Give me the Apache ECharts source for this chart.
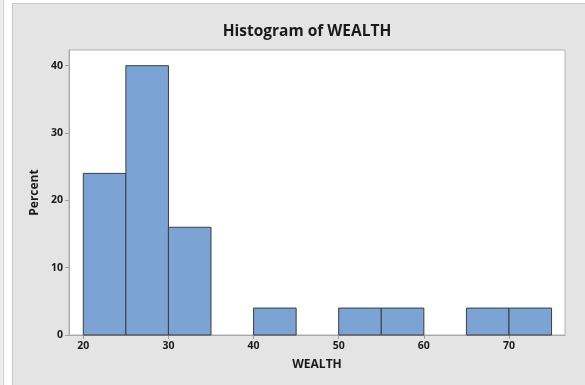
<!DOCTYPE html>
<html>
<head>
<meta charset="utf-8">
<title>Histogram of WEALTH</title>
<script src="https://cdn.jsdelivr.net/npm/echarts@6/dist/echarts.min.js"></script>
<style>
  html, body { margin: 0; padding: 0; background: #ffffff; }
  #chart { width: 585px; height: 385px; }
</style>
</head>
<body>
<div id="chart"></div>
<script>
// Histogram bins of WEALTH (bin width 5) and the percent of observations in each
const binStarts = [20, 25, 30, 40, 50, 55, 65, 70];
const binEnds   = [25, 30, 35, 45, 55, 60, 70, 75];
const percents  = [24, 40, 16, 4, 4, 4, 4, 4];

// Axis tick positions
const xTicks = [20, 30, 40, 50, 60, 70];
const yTicks = [0, 10, 20, 30, 40];

const FONT = 'Open Sans';

const bins = binStarts.map((s, i) => [s, binEnds[i], percents[i]]);

const chart = echarts.init(document.getElementById('chart'), null, { renderer: 'canvas' });

chart.setOption({
  backgroundColor: '#ffffff',
  animation: false,
  graphic: [
    { type: 'rect', z: -10, silent: true, shape: { x: 0, y: 0, width: 3.5, height: 385 },
      style: { fill: '#eeeeee' } },
    { type: 'line', z: -10, silent: true, shape: { x1: 3.5, y1: 0, x2: 3.5, y2: 385 },
      style: { stroke: '#cfcfcf', lineWidth: 1 } },
    { type: 'rect', z: -10, silent: true, shape: { x: 12.5, y: 3.5, width: 580, height: 390 },
      style: { fill: '#e4e4e4', stroke: '#c9c9c9', lineWidth: 1 } }
  ],
  title: {
    text: 'Histogram of WEALTH',
    left: 302,
    top: 19,
    textAlign: 'center',
    textStyle: { fontFamily: FONT, fontSize: 15.5, fontWeight: 'bold', color: '#1a1a1a' }
  },
  grid: {
    left: 69, top: 50, right: 20, bottom: 50,
    show: true, backgroundColor: '#ffffff', borderColor: '#b3b3b3', borderWidth: 1
  },
  xAxis: {
    type: 'value',
    min: 18.32,
    max: 76.58,
    name: 'WEALTH',
    nameLocation: 'middle',
    nameGap: 24,
    nameTextStyle: { fontFamily: FONT, fontSize: 12, fontWeight: 'bold', color: '#1a1a1a' },
    axisLine: { show: true, onZero: false, lineStyle: { color: '#a8a8a8', width: 1 } },
    axisTick: { show: true, length: 4, customValues: xTicks, lineStyle: { color: '#a0a0a0' } },
    axisLabel: { customValues: xTicks, margin: 6, fontFamily: FONT, fontSize: 10.5, fontWeight: 'bold', color: '#1a1a1a' },
    splitLine: { show: false }
  },
  yAxis: {
    type: 'value',
    min: 0,
    max: 42.33,
    name: 'Percent',
    nameLocation: 'middle',
    nameGap: 26,
    nameTextStyle: { fontFamily: FONT, fontSize: 12, fontWeight: 'bold', color: '#1a1a1a' },
    axisLine: { show: true, lineStyle: { color: '#a8a8a8', width: 1 } },
    axisTick: { show: true, length: 4, customValues: yTicks, lineStyle: { color: '#a0a0a0' } },
    axisLabel: { customValues: yTicks, margin: 6, fontFamily: FONT, fontSize: 10.5, fontWeight: 'bold', color: '#1a1a1a' },
    splitLine: { show: false }
  },
  series: [{
    type: 'custom',
    data: bins,
    encode: { x: [0, 1], y: 2 },
    renderItem: function (params, api) {
      const topLeft = api.coord([api.value(0), api.value(2)]);
      const bottomRight = api.coord([api.value(1), 0]);
      return {
        type: 'rect',
        shape: {
          x: topLeft[0],
          y: topLeft[1],
          width: bottomRight[0] - topLeft[0],
          height: bottomRight[1] - topLeft[1]
        },
        style: { fill: '#7BA3D4', stroke: '#3d3d3d', lineWidth: 1 }
      };
    }
  }]
});
</script>
</body>
</html>
